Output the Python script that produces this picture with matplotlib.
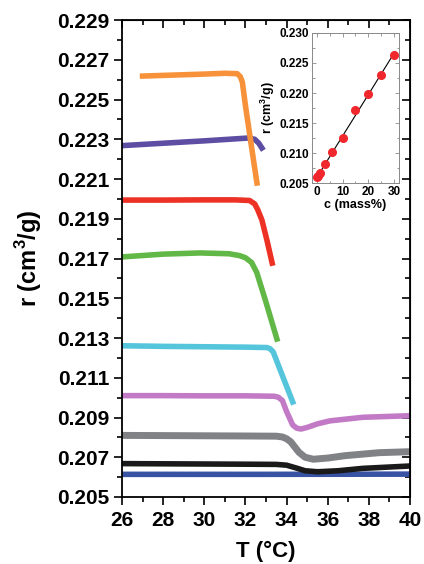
import numpy as np
import matplotlib
matplotlib.use('Agg')
import matplotlib.pyplot as plt
from matplotlib.ticker import MultipleLocator, FixedLocator, FormatStrFormatter

plt.rcParams['font.family'] = ['Liberation Sans', 'DejaVu Sans']
plt.rcParams['font.weight'] = 'bold'
plt.rcParams['mathtext.fontset'] = 'custom'
plt.rcParams['mathtext.rm'] = 'Liberation Sans:bold'
plt.rcParams['mathtext.bf'] = 'Liberation Sans:bold'

# main curves, r (cm3/g) vs T (C)
T_orange = [27.0, 28.5, 30.0, 31.0, 31.6, 31.75, 31.85, 32.0, 32.2, 32.4, 32.56]
r_orange = [0.22618, 0.22623, 0.22628, 0.22632, 0.22630, 0.22615, 0.22588, 0.2247, 0.2233, 0.2219, 0.2208]

T_purple = [26.0, 28.0, 30.0, 31.5, 32.1, 32.45, 32.65, 32.8]
r_purple = [0.22268, 0.22280, 0.22292, 0.22302, 0.22306, 0.22300, 0.22280, 0.22256]

T_red = [26.0, 28.0, 30.0, 31.5, 32.2, 32.45, 32.6, 32.8, 33.05, 33.3]
r_red = [0.21994, 0.21994, 0.21995, 0.21995, 0.21992, 0.21975, 0.21945, 0.21894, 0.21790, 0.21677]

T_green = [26.0, 28.0, 29.8, 31.2, 31.7, 32.0, 32.3, 32.55, 33.0, 33.53]
r_green = [0.21708, 0.21722, 0.21728, 0.21724, 0.21715, 0.21704, 0.21680, 0.21630, 0.21480, 0.21295]

T_cyan = [26.0, 28.0, 30.0, 32.0, 33.05, 33.2, 33.35, 33.8, 34.3]
r_cyan = [0.21261, 0.21258, 0.21256, 0.21254, 0.21252, 0.21246, 0.21230, 0.21110, 0.20978]

T_magenta = [26.0, 28.0, 30.0, 32.0, 33.4, 33.6, 33.8, 34.0, 34.3, 34.5, 34.7, 35.0, 35.5, 36.1, 37.7, 40.0]
r_magenta = [0.21010, 0.21010, 0.21009, 0.21009, 0.21007, 0.21002, 0.20985, 0.20930, 0.20862, 0.20846,
             0.20842, 0.20850, 0.20868, 0.20883, 0.20901, 0.20909]

T_gray = [26.0, 28.0, 30.0, 32.0, 33.5, 33.8, 34.0, 34.2, 34.6, 34.9, 35.3, 36.0, 36.85, 38.5, 40.0]
r_gray = [0.20810, 0.20809, 0.20808, 0.20807, 0.20806, 0.20802, 0.20793, 0.20778, 0.20725, 0.20700,
          0.20690, 0.20696, 0.20708, 0.20723, 0.20728]

T_black = [26.0, 28.0, 30.0, 32.0, 33.5, 34.0, 34.5, 34.9, 35.5, 36.5, 37.7, 40.0]
r_black = [0.20668, 0.20667, 0.20666, 0.20665, 0.20664, 0.20660, 0.20645, 0.20632, 0.20627,
           0.20632, 0.20644, 0.20656]

T_blue = [26.0, 33.0, 40.0]
r_blue = [0.20614, 0.20614, 0.20615]

# inset: r at 26 C vs concentration
c_mass = [0, 0.5, 1, 3, 6, 10, 15, 20, 25, 30]
r_c = [0.2060, 0.2062, 0.2066, 0.2081, 0.2101, 0.2125, 0.2171, 0.2199, 0.2230, 0.2263]

y_major = np.arange(0.205, 0.2295, 0.002)
y_minor = np.arange(0.205, 0.2295, 0.001)

fig = plt.figure(figsize=(4.24, 5.64), dpi=100)
ax = fig.add_axes([0.2877, 0.1188, 0.6793, 0.8457])

lw = 4
ax.plot(T_blue, r_blue, color='#3953a4', lw=lw, solid_capstyle='butt')
ax.plot(T_black, r_black, color='#1a1a1a', lw=lw, solid_capstyle='butt')
ax.plot(T_gray, r_gray, color='#808285', lw=lw + 1)
ax.plot(T_magenta, r_magenta, color='#c27ac6', lw=lw, solid_capstyle='butt')
ax.plot(T_cyan, r_cyan, color='#55c5dc', lw=lw)
ax.plot(T_green, r_green, color='#62b847', lw=lw)
ax.plot(T_red, r_red, color='#ed3124', lw=lw)
ax.plot(T_purple, r_purple, color='#5d4ea3', lw=lw)
ax.plot(T_orange, r_orange, color='#f7923a', lw=lw)

ax.set_xlim(26, 40)
ax.set_ylim(0.205, 0.229)
ax.xaxis.set_major_locator(MultipleLocator(2))
ax.xaxis.set_minor_locator(MultipleLocator(1))
ax.yaxis.set_major_locator(FixedLocator(y_major))
ax.yaxis.set_minor_locator(FixedLocator(y_minor))
ax.yaxis.set_major_formatter(FormatStrFormatter('%.3f'))
ax.tick_params(which='both', direction='out', width=1.2, top=False, right=False)
ax.tick_params(which='major', length=6)
ax.tick_params(which='minor', length=3.5)
ax.tick_params(axis='x', labelsize=15, pad=4)
ax.tick_params(axis='y', labelsize=15, pad=3)
for s in ax.spines.values():
    s.set_linewidth(1.3)

# inward ticks on top and right
ax2 = ax.secondary_xaxis('top')
ax2.xaxis.set_major_locator(MultipleLocator(2))
ax2.xaxis.set_minor_locator(MultipleLocator(1))
ax2.tick_params(which='both', direction='in', width=1.2, labeltop=False)
ax2.tick_params(which='major', length=6)
ax2.tick_params(which='minor', length=3.5)
ax3 = ax.secondary_yaxis('right')
ax3.yaxis.set_major_locator(FixedLocator(y_major))
ax3.yaxis.set_minor_locator(FixedLocator(y_minor))
ax3.tick_params(which='both', direction='in', width=1.2, labelright=False)
ax3.tick_params(which='major', length=6)
ax3.tick_params(which='minor', length=3.5)

ax.set_xlabel('T (°C)', fontsize=16, fontweight='bold', labelpad=8)
ax.set_ylabel(r'r (cm$^{3}$/g)', fontsize=17, fontweight='bold')
ax.yaxis.set_label_coords(-0.27, 0.5)

# inset
ins = fig.add_axes([0.7358, 0.6755, 0.2052, 0.2660])
fit = np.polyfit(c_mass, r_c, 1)
cx = np.array([-0.5, 30.5])
ins.plot(cx, np.polyval(fit, cx), color='black', lw=0.8)
ins.plot(c_mass, r_c, 'o', color='#f0282d', ms=5.5, mec='#f0282d')
ins.set_xlim(-2, 32)
ins.set_ylim(0.205, 0.230)
ins.xaxis.set_major_locator(MultipleLocator(10))
ins.xaxis.set_minor_locator(MultipleLocator(5))
ins.yaxis.set_major_locator(MultipleLocator(0.005))
ins.yaxis.set_minor_locator(MultipleLocator(0.0025))
ins.yaxis.set_major_formatter(FormatStrFormatter('%.3f'))
ins.tick_params(which='both', direction='in', top=True, right=True, width=0.6,
                color='#888888', labelsize=8.5, pad=2)
ins.tick_params(which='major', length=3)
ins.tick_params(which='minor', length=1.8)
for s in ins.spines.values():
    s.set_linewidth(0.7)
    s.set_color('#888888')
ins.set_xlabel('c (mass%)', fontsize=9, fontweight='bold', labelpad=1)
ins.set_ylabel(r'r (cm$^{3}$/g)', fontsize=9, fontweight='bold', labelpad=2)

fig.savefig('out.png', dpi=100)
